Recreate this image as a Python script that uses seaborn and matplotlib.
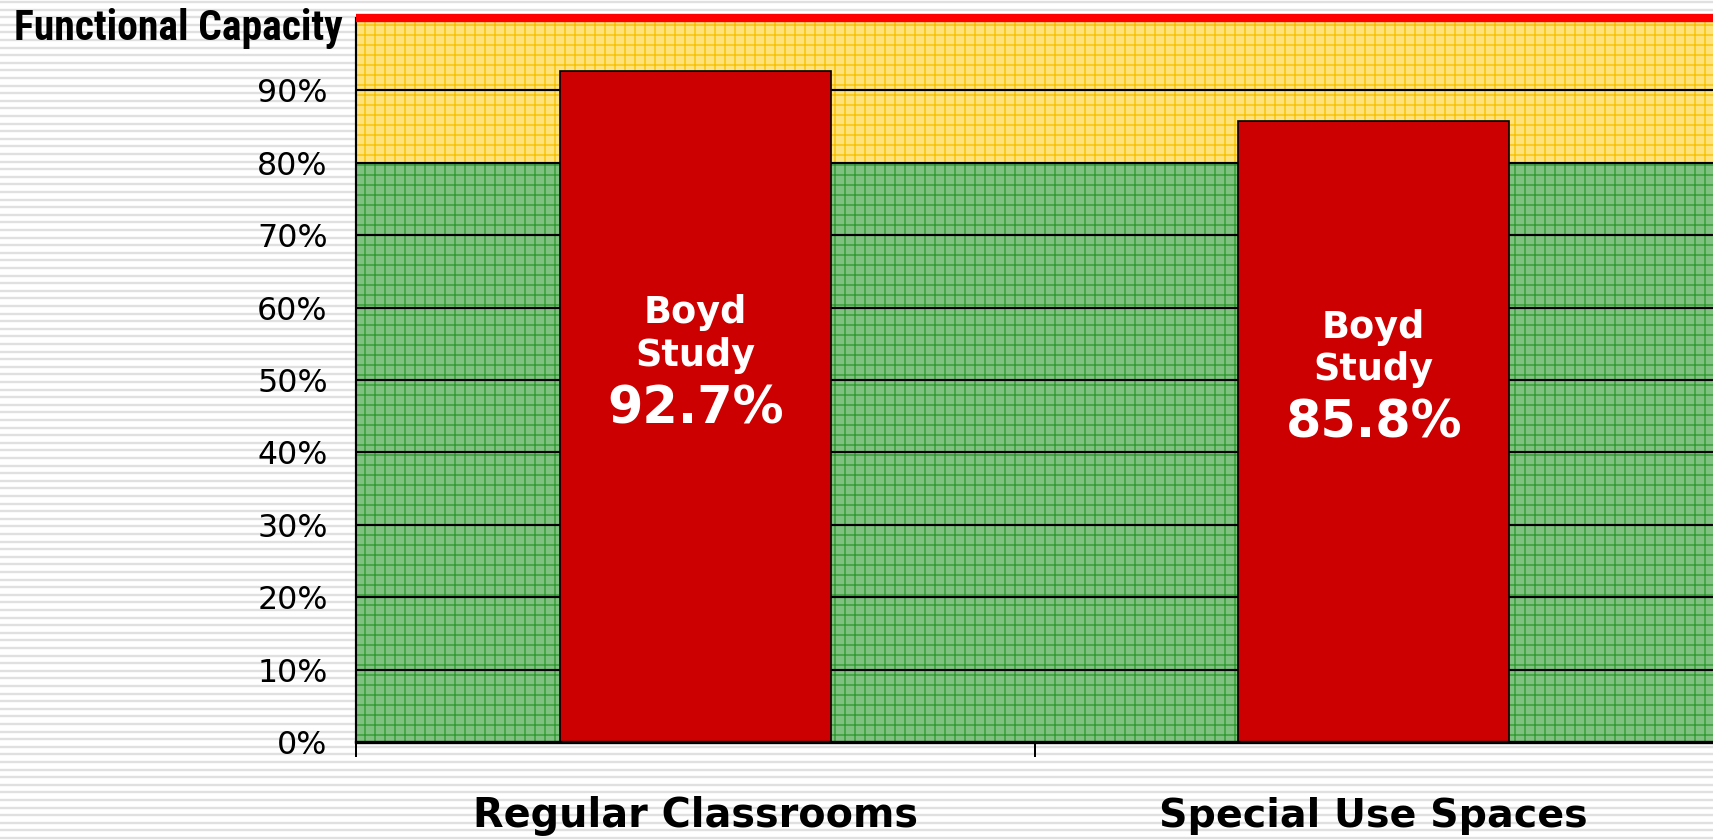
import numpy as np
import pandas as pd
import matplotlib
matplotlib.use("Agg")
import matplotlib.pyplot as plt
from matplotlib import font_manager
import seaborn as sns

categories = ["Regular Classrooms", "Special Use Spaces"]
values = [0.927, 0.858]
bar_labels = ["92.7%", "85.8%"]
ytick_values = [0.0, 0.1, 0.2, 0.3, 0.4, 0.5, 0.6, 0.7, 0.8, 0.9]
ytick_labels = ["0%", "10%", "20%", "30%", "40%", "50%", "60%", "70%", "80%", "90%"]
green_zone = (0.0, 0.8)
yellow_zone = (0.8, 1.0)
capacity_line = 1.0
capacity_label = "Functional Capacity"

# label baselines inside the bars (data units)
label_y = [0.44, 0.42]


def pick_font(candidates):
    for name in candidates:
        try:
            font_manager.findfont(font_manager.FontProperties(family=name, weight="bold"),
                                  fallback_to_default=False)
            return name
        except Exception:
            pass
    return "DejaVu Sans"


narrow_font = pick_font(["Liberation Sans Narrow", "Arial Narrow", "Roboto Condensed",
                         "Liberation Sans"])

sns.set_theme(style="white")
plt.rcParams["font.family"] = ["DejaVu Sans"]
plt.rcParams["text.color"] = "black"
plt.rcParams["xtick.color"] = "black"
plt.rcParams["ytick.color"] = "black"
plt.rcParams["hatch.linewidth"] = 0.8

df = pd.DataFrame({"category": categories, "value": values})

DPI = 120
fig = plt.figure(figsize=(1713 / DPI, 840 / DPI), dpi=DPI)
fig.patch.set_facecolor("white")

# striped background
bg = fig.add_axes([0, 0, 1, 1], zorder=-5)
bg.set_xlim(0, 1713)
bg.set_ylim(0, 840)
bg.hlines(np.arange(2, 840, 7.6), 0, 1713, color="#e0e0e0", lw=1.4)
bg.axis("off")

ax = fig.add_axes([356 / 1713, 98 / 840, 1 - 356 / 1713, (742 - 18) / 840])
ax.patch.set_alpha(0)

ax.axhspan(*green_zone, facecolor="#80c080", edgecolor="#2f9a2f", hatch="++", lw=0, zorder=0.5)
ax.axhspan(*yellow_zone, facecolor="#ffe27a", edgecolor="#f5c000", hatch="++", lw=0, zorder=0.5)

for y in ytick_values[1:]:
    ax.axhline(y, color="black", lw=1.3, zorder=1)

sns.barplot(data=df, x="category", y="value", color="#cc0000", saturation=1,
            width=0.4, edgecolor="black", linewidth=1.0, ax=ax, zorder=2)

ax.axhline(capacity_line, color="#ff0000", lw=5.0, zorder=3, clip_on=False,
           solid_capstyle="butt")

for i, (lab, ly) in enumerate(zip(bar_labels, label_y)):
    ax.annotate(lab, xy=(i, ly), ha="center", va="baseline", color="white",
                fontsize=30.5, fontweight="bold", zorder=4)
    ax.annotate("Study", xy=(i, ly), xytext=(0, 34.5), textcoords="offset points",
                ha="center", va="baseline", color="white", fontsize=22,
                fontweight="bold", zorder=4)
    ax.annotate("Boyd", xy=(i, ly), xytext=(0, 60), textcoords="offset points",
                ha="center", va="baseline", color="white", fontsize=22,
                fontweight="bold", zorder=4)

ax.set_xlim(-0.5, 1.5)
ax.set_ylim(0, 1.0)
ax.set_yticks(ytick_values)
ax.set_yticklabels(ytick_labels, fontsize=19)
ax.tick_params(axis="y", length=0, pad=17)

ax.set_xticks([0, 1])
ax.set_xticklabels(categories, fontsize=26, fontweight="bold", va="baseline")
ax.set_xticks([-0.5, 0.5], minor=True)
ax.tick_params(axis="x", which="major", length=0, pad=51)
ax.tick_params(axis="x", which="minor", length=9, width=1.2, color="black", bottom=True)
ax.set_xlabel("")
ax.set_ylabel("")

cap = ax.annotate(capacity_label, xy=(0, capacity_line), xycoords=("axes fraction", "data"),
                  xytext=(-8, -13), textcoords="offset points", ha="right", va="baseline",
                  fontsize=25, fontweight="bold", family=narrow_font)

for side in ["top", "right"]:
    ax.spines[side].set_visible(False)
ax.spines["left"].set_color("black")
ax.spines["left"].set_linewidth(1.3)
ax.spines["bottom"].set_color("black")
ax.spines["bottom"].set_linewidth(2.0)
ax.spines["bottom"].set_zorder(3)

# shrink the wide texts to the widths they take in the reference
fig.canvas.draw()
renderer = fig.canvas.get_renderer()
targets = [(cap, 330)] + list(zip(ax.get_xticklabels(), [444, 428]))
for txt, target in targets:
    w = txt.get_window_extent(renderer).width
    if w > target:
        txt.set_fontsize(txt.get_fontsize() * target / w)

fig.savefig("out.png", dpi=DPI)
